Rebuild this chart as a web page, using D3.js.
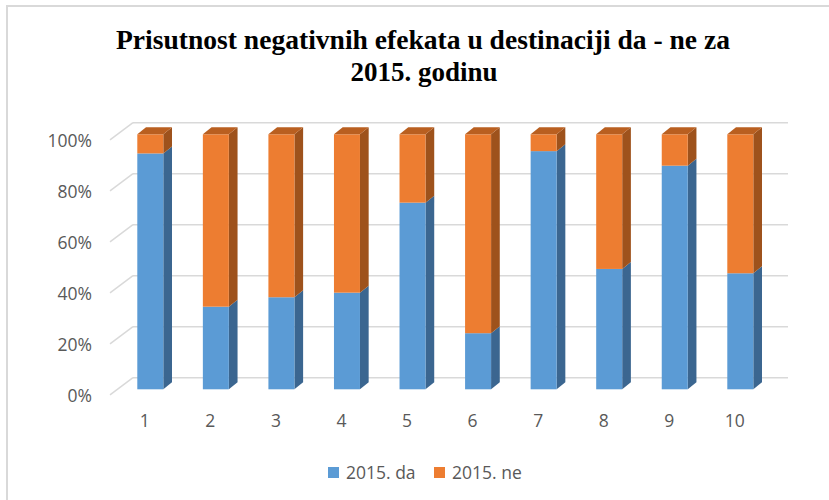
<!DOCTYPE html>
<html>
<head>
<meta charset="utf-8">
<script src="https://cdn.jsdelivr.net/npm/d3@7"></script>
<style>
  body { margin: 0; background: #fff; }
  svg { display: block; }
</style>
</head>
<body>
<div id="chart"></div>
<script>
var categories = ['1', '2', '3', '4', '5', '6', '7', '8', '9', '10'];
var seriesNames = ['2015. da', '2015. ne'];
var da = [0.925, 0.324, 0.361, 0.379, 0.732, 0.22, 0.934, 0.472, 0.877, 0.455];
var ne = [0.075, 0.676, 0.639, 0.621, 0.268, 0.78, 0.066, 0.528, 0.123, 0.545];
var yTicks = [0, 0.2, 0.4, 0.6, 0.8, 1];

var width = 829,
    height = 500,
    barwidth = 26,
    depthx = 8.7,    // bar side depth
    depthy = 7,
    wally = 11.6,    // bar front -> back wall
    textcolor = '#595959',
    gridcolor = '#d9d9d9',
    fills = ['#5b9bd5', '#ed7d31'],
    sides = ['#3b6690', '#9e521c'],
    tops = ['#4a80b4', '#b95f20'],
    font = '"Open Sans", "Liberation Sans", sans-serif',
    fontsize = 17.5;

var rows = categories.map(function (c, i) {
    return { cat: c, da: da[i], ne: ne[i] };
});

var svg = d3.select('#chart').append('svg')
    .attr('width', width)
    .attr('height', height);

// chart border (only top and left are visible)
svg.append('rect')
    .attr('x', 7).attr('y', 6)
    .attr('width', width).attr('height', height)
    .attr('fill', 'none')
    .attr('stroke', gridcolor)
    .attr('stroke-width', 2);

var x = d3.scalePoint().domain(categories).range([150.3, 740.3]);
var y = d3.scaleLinear().domain([0, 1]).range([389.3, 134.3]);

// back wall gridlines + left wall diagonals
var grid = svg.append('g');
grid.selectAll('.gl').data(yTicks).enter().append('line')
    .attr('x1', 133).attr('x2', 788)
    .attr('y1', function (d) { return y(d) - wally; })
    .attr('y2', function (d) { return y(d) - wally; })
    .attr('stroke', gridcolor).attr('stroke-width', 1.5);
grid.selectAll('.dg').data(yTicks).enter().append('line')
    .attr('x1', 110).attr('x2', 133)
    .attr('y1', function (d) { return y(d) + 5.5; })
    .attr('y2', function (d) { return y(d) - wally; })
    .attr('stroke', gridcolor).attr('stroke-width', 1.5);

// y axis labels
var yAxis = svg.append('g')
    .attr('transform', 'translate(92,7)')
    .call(d3.axisLeft(y).tickValues(yTicks).tickFormat(d3.format('.0%')).tickSize(0).tickPadding(0));
yAxis.select('.domain').remove();
yAxis.selectAll('text')
    .attr('fill', textcolor)
    .attr('font-family', font)
    .attr('font-size', fontsize);

// x axis labels
var xAxis = svg.append('g')
    .attr('transform', 'translate(-6,415)')
    .call(d3.axisBottom(x).tickSize(0).tickPadding(0));
xAxis.select('.domain').remove();
xAxis.selectAll('text')
    .attr('fill', textcolor)
    .attr('font-family', font)
    .attr('font-size', fontsize);

// stacked 3d bars
var stack = d3.stack().keys(['da', 'ne']).offset(d3.stackOffsetExpand);
var layers = stack(rows);

var layer = svg.selectAll('.layer')
    .data(layers)
    .enter().append('g')
    .attr('class', 'layer');

layer.each(function (s, si) {
    var g = d3.select(this);
    var seg = g.selectAll('.seg').data(s).enter().append('g');

    // side face
    seg.append('path')
        .attr('fill', sides[si])
        .attr('d', function (d) {
            var xr = x(d.data.cat) + barwidth / 2,
                y0 = y(d[0]),
                y1 = y(d[1]);
            return 'M' + xr + ',' + y1 + 'L' + xr + ',' + y0 +
                'L' + (xr + depthx) + ',' + (y0 - depthy) +
                'L' + (xr + depthx) + ',' + (y1 - depthy) + 'Z';
        });

    // front face
    seg.append('rect')
        .attr('fill', fills[si])
        .attr('x', function (d) { return x(d.data.cat) - barwidth / 2; })
        .attr('y', function (d) { return y(d[1]); })
        .attr('width', barwidth)
        .attr('height', function (d) { return y(d[0]) - y(d[1]); });

    // top face only on the last series
    if (si === layers.length - 1) {
        seg.append('path')
            .attr('fill', tops[si])
            .attr('d', function (d) {
                var xl = x(d.data.cat) - barwidth / 2,
                    yt = y(d[1]);
                return 'M' + xl + ',' + yt + 'L' + (xl + barwidth) + ',' + yt +
                    'L' + (xl + barwidth + depthx) + ',' + (yt - depthy) +
                    'L' + (xl + depthx) + ',' + (yt - depthy) + 'Z';
            });
    }
});

// title
var title = svg.append('g')
    .attr('font-family', '"Liberation Serif", "Times New Roman", serif')
    .attr('font-weight', 'bold')
    .attr('font-size', 28)
    .attr('fill', '#000')
    .attr('text-anchor', 'middle');
title.append('text')
    .attr('x', 423).attr('y', 49)
    .attr('textLength', 614).attr('lengthAdjust', 'spacingAndGlyphs')
    .text('Prisutnost negativnih efekata u destinaciji da - ne za');
title.append('text')
    .attr('x', 424).attr('y', 81)
    .attr('textLength', 147).attr('lengthAdjust', 'spacingAndGlyphs')
    .text('2015. godinu');

// legend
var legend = svg.selectAll('.legend')
    .data(seriesNames)
    .enter().append('g')
    .attr('class', 'legend')
    .attr('transform', function (d, i) { return 'translate(' + (328 + i * 106) + ',467)'; });
legend.append('rect')
    .attr('width', 11).attr('height', 11)
    .attr('fill', function (d, i) { return fills[i]; });
legend.append('text')
    .attr('x', 18).attr('y', 11.5)
    .attr('fill', textcolor)
    .attr('font-family', font)
    .attr('font-size', fontsize)
    .text(function (d) { return d; });
</script>
</body>
</html>
